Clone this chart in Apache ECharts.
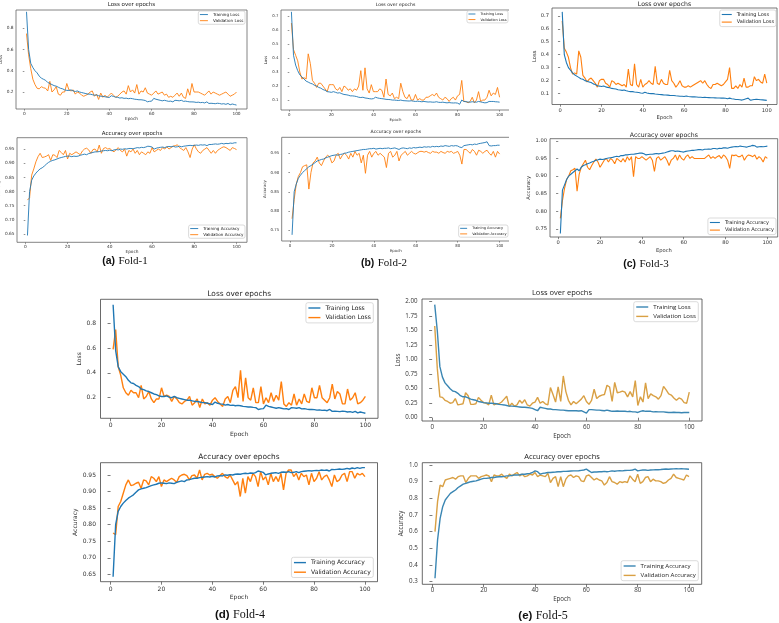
<!DOCTYPE html>
<html><head><meta charset="utf-8">
<script src="https://cdn.jsdelivr.net/npm/echarts@6/dist/echarts.min.js"></script>
<style>html,body{margin:0;padding:0;background:#fff}#c{width:779px;height:623px}</style>
</head><body><div id="c"></div>
<script>
// ---------- tick labels ----------
const epochTicks=[0,20,40,60,80,100];
const lossTicksA=[0.2,0.4,0.6,0.8];
const accTicksA=[0.65,0.70,0.75,0.80,0.85,0.90,0.95];
const lossTicksB=[0.1,0.2,0.3,0.4,0.5,0.6,0.7];
const accTicksB2=[0.75,0.80,0.85,0.90,0.95];
const accTicksB3=[0.75,0.80,0.85,0.90,0.95,1.00];
const lossTicks5=[0,0.25,0.5,0.75,1.0,1.25,1.5,1.75,2.0];
const accTicks5=[0.3,0.4,0.5,0.6,0.7,0.8,0.9,1.0];
const lossNames=['Training Loss','Validation Loss'];
const accNames=['Training Accuracy','Validation Accuracy'];
const captions=[['(a)','Fold-1'],['(b)','Fold-2'],['(c)','Fold-3'],['(d)','Fold-4'],['(e)','Fold-5']];

// ---------- Fold-1 ----------
const f1TrainLoss=[0.955,0.6,0.47,0.43,0.4,0.38,0.35,0.33,0.32,0.31,0.29,0.28,0.27,0.26,0.255,0.245,0.235,0.23,0.22,0.215,0.215,0.22,0.21,0.205,0.21,0.2,0.195,0.19,0.185,0.18,0.18,0.175,0.17,0.172,0.165,0.16,0.16,0.155,0.152,0.148,0.165,0.158,0.152,0.15,0.143,0.146,0.14,0.142,0.137,0.14,0.137,0.132,0.13,0.127,0.127,0.124,0.12,0.108,0.112,0.114,0.14,0.132,0.127,0.122,0.117,0.122,0.117,0.112,0.114,0.107,0.122,0.12,0.117,0.122,0.112,0.114,0.11,0.107,0.107,0.106,0.102,0.104,0.1,0.102,0.097,0.107,0.092,0.094,0.092,0.09,0.094,0.092,0.087,0.09,0.084,0.092,0.08,0.087,0.082,0.077];
const f1ValLoss=[0.75,0.55,0.42,0.32,0.27,0.235,0.23,0.25,0.24,0.235,0.21,0.3,0.2,0.22,0.25,0.18,0.17,0.2,0.2,0.28,0.22,0.21,0.22,0.18,0.2,0.19,0.17,0.16,0.17,0.18,0.2,0.21,0.16,0.18,0.13,0.19,0.15,0.17,0.15,0.17,0.19,0.17,0.15,0.16,0.18,0.2,0.21,0.18,0.26,0.2,0.22,0.19,0.27,0.18,0.21,0.2,0.24,0.19,0.18,0.17,0.19,0.21,0.18,0.19,0.2,0.17,0.18,0.15,0.16,0.15,0.17,0.19,0.16,0.19,0.15,0.14,0.23,0.17,0.28,0.2,0.2,0.2,0.19,0.18,0.17,0.19,0.21,0.18,0.2,0.19,0.18,0.17,0.18,0.19,0.2,0.18,0.16,0.17,0.18,0.2];
const f1TrainAcc=[0.645,0.8,0.84,0.855,0.865,0.873,0.88,0.884,0.89,0.897,0.903,0.907,0.91,0.912,0.915,0.918,0.92,0.922,0.924,0.925,0.925,0.923,0.925,0.924,0.925,0.928,0.93,0.932,0.93,0.934,0.936,0.938,0.94,0.94,0.941,0.943,0.944,0.945,0.944,0.946,0.944,0.947,0.948,0.947,0.95,0.949,0.951,0.95,0.952,0.952,0.951,0.953,0.955,0.954,0.956,0.955,0.957,0.96,0.959,0.957,0.95,0.953,0.955,0.956,0.957,0.955,0.958,0.959,0.958,0.96,0.957,0.958,0.96,0.958,0.96,0.961,0.962,0.963,0.962,0.963,0.964,0.963,0.965,0.964,0.965,0.962,0.966,0.966,0.967,0.968,0.967,0.968,0.97,0.968,0.97,0.969,0.971,0.97,0.972,0.972];
const f1ValAcc=[0.77,0.778,0.858,0.88,0.905,0.923,0.935,0.92,0.922,0.925,0.93,0.91,0.93,0.928,0.92,0.945,0.938,0.93,0.945,0.915,0.935,0.93,0.935,0.94,0.935,0.93,0.943,0.95,0.953,0.947,0.935,0.948,0.95,0.94,0.964,0.935,0.952,0.955,0.95,0.952,0.945,0.94,0.948,0.955,0.945,0.94,0.95,0.925,0.945,0.94,0.95,0.935,0.945,0.93,0.94,0.935,0.93,0.94,0.935,0.955,0.94,0.945,0.95,0.945,0.955,0.95,0.958,0.95,0.955,0.96,0.962,0.965,0.955,0.95,0.945,0.955,0.94,0.92,0.95,0.965,0.95,0.94,0.935,0.945,0.95,0.955,0.945,0.935,0.945,0.935,0.945,0.95,0.955,0.958,0.955,0.95,0.945,0.955,0.952,0.948];

// ---------- Fold-2 ----------
const f2TrainLoss=[0.73,0.42,0.35,0.31,0.28,0.265,0.25,0.235,0.228,0.22,0.215,0.205,0.2,0.19,0.185,0.175,0.17,0.16,0.158,0.155,0.16,0.155,0.15,0.152,0.145,0.14,0.138,0.135,0.13,0.13,0.128,0.125,0.12,0.118,0.12,0.115,0.113,0.11,0.108,0.11,0.12,0.115,0.112,0.11,0.108,0.105,0.104,0.103,0.1,0.1,0.098,0.097,0.1,0.096,0.095,0.094,0.093,0.095,0.092,0.09,0.092,0.09,0.088,0.09,0.088,0.086,0.087,0.085,0.085,0.088,0.084,0.083,0.085,0.082,0.08,0.082,0.08,0.079,0.08,0.078,0.07,0.1,0.09,0.088,0.086,0.085,0.088,0.086,0.085,0.09,0.087,0.083,0.08,0.082,0.09,0.09,0.09,0.088,0.087,0.085];
const f2ValLoss=[0.65,0.46,0.42,0.38,0.3,0.25,0.26,0.25,0.43,0.36,0.24,0.22,0.19,0.22,0.22,0.2,0.18,0.16,0.21,0.21,0.21,0.18,0.17,0.19,0.16,0.2,0.19,0.17,0.18,0.16,0.18,0.17,0.2,0.31,0.17,0.33,0.18,0.15,0.21,0.16,0.16,0.16,0.18,0.17,0.12,0.25,0.14,0.13,0.15,0.11,0.12,0.11,0.22,0.16,0.12,0.11,0.14,0.1,0.1,0.14,0.1,0.11,0.1,0.1,0.12,0.12,0.13,0.14,0.13,0.15,0.12,0.11,0.1,0.12,0.11,0.09,0.11,0.12,0.1,0.13,0.14,0.24,0.09,0.09,0.08,0.09,0.12,0.08,0.1,0.16,0.09,0.1,0.1,0.12,0.17,0.13,0.15,0.14,0.19,0.12];
const f2TrainAcc=[0.738,0.85,0.87,0.885,0.893,0.9,0.905,0.91,0.915,0.918,0.922,0.926,0.93,0.932,0.934,0.935,0.938,0.94,0.942,0.944,0.945,0.946,0.945,0.947,0.948,0.95,0.951,0.953,0.954,0.955,0.956,0.957,0.958,0.959,0.96,0.96,0.961,0.962,0.962,0.963,0.961,0.962,0.963,0.962,0.963,0.963,0.964,0.962,0.963,0.964,0.962,0.96,0.963,0.964,0.963,0.962,0.964,0.963,0.965,0.964,0.965,0.966,0.965,0.967,0.966,0.967,0.966,0.968,0.967,0.968,0.967,0.969,0.968,0.97,0.969,0.968,0.97,0.969,0.97,0.969,0.966,0.965,0.97,0.971,0.972,0.973,0.972,0.974,0.973,0.975,0.976,0.977,0.978,0.98,0.97,0.969,0.97,0.97,0.971,0.971];
const f2ValAcc=[0.78,0.83,0.87,0.89,0.9,0.915,0.918,0.92,0.857,0.9,0.925,0.93,0.94,0.925,0.918,0.93,0.94,0.945,0.94,0.925,0.93,0.945,0.95,0.935,0.945,0.95,0.945,0.935,0.95,0.94,0.955,0.945,0.95,0.925,0.945,0.898,0.945,0.955,0.94,0.95,0.955,0.945,0.95,0.945,0.94,0.913,0.95,0.955,0.94,0.945,0.955,0.93,0.945,0.95,0.955,0.945,0.95,0.955,0.95,0.948,0.952,0.955,0.955,0.953,0.955,0.952,0.95,0.955,0.953,0.953,0.95,0.955,0.952,0.95,0.955,0.953,0.955,0.95,0.952,0.955,0.945,0.922,0.96,0.96,0.955,0.95,0.96,0.955,0.945,0.958,0.955,0.95,0.955,0.958,0.95,0.945,0.955,0.94,0.955,0.948];

// ---------- Fold-3 ----------
const f3TrainLoss=[0.73,0.4,0.34,0.3,0.28,0.26,0.245,0.235,0.225,0.215,0.21,0.2,0.195,0.19,0.185,0.175,0.17,0.16,0.158,0.155,0.158,0.152,0.148,0.145,0.14,0.138,0.135,0.13,0.128,0.125,0.128,0.122,0.118,0.115,0.115,0.112,0.11,0.108,0.105,0.103,0.11,0.105,0.102,0.1,0.1,0.097,0.095,0.093,0.092,0.09,0.089,0.088,0.086,0.085,0.085,0.083,0.082,0.08,0.08,0.078,0.082,0.078,0.076,0.075,0.075,0.074,0.072,0.072,0.07,0.072,0.07,0.069,0.068,0.068,0.067,0.066,0.066,0.065,0.066,0.064,0.06,0.065,0.06,0.058,0.055,0.055,0.053,0.05,0.055,0.06,0.065,0.05,0.052,0.055,0.057,0.055,0.053,0.052,0.05,0.048];
const f3ValLoss=[0.66,0.45,0.42,0.38,0.3,0.25,0.26,0.25,0.43,0.38,0.24,0.22,0.19,0.21,0.22,0.2,0.18,0.15,0.2,0.21,0.21,0.18,0.17,0.15,0.2,0.19,0.17,0.18,0.17,0.16,0.17,0.15,0.29,0.17,0.16,0.33,0.17,0.15,0.21,0.15,0.17,0.18,0.2,0.18,0.17,0.31,0.18,0.17,0.21,0.18,0.17,0.17,0.28,0.2,0.18,0.15,0.17,0.2,0.16,0.15,0.15,0.16,0.15,0.16,0.17,0.18,0.19,0.2,0.18,0.2,0.17,0.15,0.14,0.17,0.17,0.18,0.17,0.16,0.17,0.19,0.21,0.3,0.14,0.14,0.16,0.14,0.17,0.15,0.22,0.15,0.15,0.16,0.16,0.23,0.2,0.21,0.19,0.18,0.25,0.18];
const f3TrainAcc=[0.737,0.86,0.875,0.89,0.9,0.905,0.91,0.915,0.92,0.915,0.925,0.93,0.932,0.935,0.937,0.94,0.942,0.945,0.946,0.948,0.947,0.948,0.95,0.951,0.952,0.953,0.955,0.956,0.955,0.958,0.958,0.96,0.96,0.961,0.962,0.962,0.963,0.964,0.965,0.965,0.963,0.96,0.961,0.962,0.962,0.963,0.964,0.963,0.964,0.965,0.966,0.968,0.97,0.972,0.972,0.97,0.971,0.97,0.969,0.968,0.97,0.971,0.972,0.973,0.973,0.974,0.975,0.975,0.974,0.976,0.976,0.977,0.976,0.978,0.978,0.977,0.979,0.978,0.98,0.98,0.979,0.981,0.982,0.983,0.984,0.983,0.985,0.984,0.983,0.982,0.984,0.985,0.987,0.986,0.982,0.983,0.984,0.983,0.984,0.985];
const f3ValAcc=[0.78,0.83,0.865,0.89,0.9,0.915,0.918,0.922,0.857,0.905,0.925,0.935,0.945,0.925,0.918,0.93,0.94,0.948,0.94,0.925,0.935,0.945,0.95,0.94,0.95,0.945,0.935,0.95,0.945,0.94,0.95,0.94,0.955,0.945,0.955,0.898,0.955,0.95,0.95,0.955,0.95,0.945,0.95,0.955,0.945,0.913,0.95,0.955,0.945,0.95,0.955,0.945,0.93,0.945,0.95,0.96,0.945,0.96,0.95,0.945,0.955,0.96,0.95,0.955,0.95,0.95,0.95,0.95,0.95,0.95,0.955,0.96,0.95,0.955,0.95,0.955,0.958,0.95,0.96,0.955,0.945,0.922,0.96,0.958,0.96,0.955,0.955,0.96,0.945,0.955,0.96,0.958,0.955,0.96,0.948,0.955,0.95,0.94,0.955,0.95];

// ---------- Fold-4 ----------
const f4TrainLoss=[0.95,0.58,0.45,0.41,0.39,0.37,0.34,0.32,0.315,0.3,0.29,0.27,0.265,0.255,0.25,0.24,0.23,0.225,0.215,0.21,0.21,0.215,0.205,0.2,0.21,0.2,0.195,0.19,0.185,0.18,0.18,0.175,0.17,0.17,0.165,0.16,0.16,0.155,0.15,0.145,0.165,0.155,0.15,0.148,0.14,0.145,0.138,0.14,0.135,0.138,0.135,0.13,0.128,0.125,0.125,0.122,0.12,0.105,0.11,0.112,0.14,0.13,0.125,0.12,0.115,0.12,0.115,0.11,0.112,0.105,0.12,0.118,0.115,0.12,0.11,0.112,0.108,0.105,0.105,0.104,0.1,0.102,0.098,0.1,0.095,0.105,0.09,0.092,0.09,0.088,0.092,0.09,0.085,0.088,0.082,0.09,0.078,0.085,0.08,0.075];
const f4ValLoss=[0.59,0.75,0.45,0.38,0.28,0.24,0.22,0.26,0.24,0.24,0.2,0.3,0.19,0.21,0.25,0.19,0.16,0.19,0.19,0.28,0.21,0.22,0.21,0.17,0.21,0.19,0.16,0.15,0.17,0.18,0.21,0.14,0.16,0.19,0.12,0.19,0.15,0.16,0.14,0.18,0.2,0.17,0.15,0.13,0.19,0.21,0.16,0.26,0.29,0.2,0.42,0.17,0.36,0.2,0.18,0.28,0.16,0.16,0.29,0.15,0.2,0.16,0.24,0.17,0.22,0.18,0.33,0.15,0.13,0.16,0.14,0.23,0.14,0.19,0.15,0.23,0.17,0.16,0.28,0.2,0.2,0.3,0.2,0.18,0.16,0.2,0.31,0.19,0.25,0.23,0.15,0.15,0.27,0.18,0.2,0.24,0.15,0.16,0.18,0.21];
const f4TrainAcc=[0.643,0.8,0.84,0.855,0.865,0.873,0.88,0.885,0.89,0.898,0.905,0.908,0.91,0.912,0.915,0.918,0.92,0.922,0.925,0.926,0.925,0.924,0.926,0.925,0.924,0.928,0.93,0.932,0.93,0.935,0.936,0.938,0.94,0.94,0.942,0.943,0.944,0.945,0.944,0.946,0.944,0.947,0.948,0.947,0.95,0.949,0.951,0.95,0.952,0.953,0.952,0.954,0.955,0.954,0.956,0.955,0.957,0.962,0.96,0.958,0.95,0.953,0.955,0.956,0.957,0.955,0.958,0.959,0.958,0.96,0.957,0.958,0.96,0.957,0.96,0.961,0.962,0.963,0.962,0.963,0.964,0.963,0.965,0.964,0.965,0.962,0.967,0.966,0.967,0.968,0.967,0.968,0.97,0.968,0.971,0.969,0.972,0.97,0.972,0.972];
const f4ValAcc=[0.775,0.77,0.855,0.87,0.895,0.92,0.935,0.918,0.92,0.925,0.928,0.91,0.935,0.932,0.92,0.945,0.94,0.93,0.945,0.915,0.935,0.93,0.935,0.94,0.935,0.928,0.945,0.95,0.952,0.948,0.935,0.948,0.95,0.94,0.965,0.935,0.952,0.955,0.95,0.952,0.945,0.94,0.948,0.955,0.945,0.94,0.95,0.935,0.92,0.93,0.885,0.94,0.895,0.945,0.93,0.955,0.945,0.915,0.96,0.935,0.945,0.92,0.955,0.93,0.945,0.93,0.955,0.905,0.955,0.965,0.965,0.945,0.955,0.935,0.955,0.945,0.95,0.92,0.955,0.93,0.94,0.96,0.935,0.945,0.95,0.935,0.915,0.95,0.93,0.935,0.95,0.955,0.93,0.96,0.96,0.94,0.955,0.95,0.955,0.945];

// ---------- Fold-5 ----------
const f5TrainLoss=[1.95,1.5,0.88,0.7,0.6,0.55,0.5,0.46,0.45,0.42,0.38,0.36,0.36,0.34,0.32,0.31,0.3,0.28,0.27,0.26,0.255,0.25,0.25,0.245,0.24,0.23,0.225,0.22,0.21,0.2,0.2,0.195,0.19,0.185,0.18,0.18,0.175,0.17,0.16,0.14,0.12,0.18,0.17,0.16,0.15,0.15,0.14,0.14,0.135,0.13,0.13,0.125,0.12,0.12,0.12,0.12,0.115,0.12,0.1,0.08,0.14,0.14,0.135,0.13,0.13,0.125,0.12,0.13,0.12,0.11,0.11,0.115,0.11,0.11,0.11,0.105,0.11,0.1,0.1,0.09,0.11,0.12,0.11,0.11,0.11,0.1,0.105,0.1,0.1,0.1,0.095,0.09,0.09,0.095,0.09,0.09,0.085,0.09,0.09,0.09];
const f5ValLoss=[1.58,0.85,0.36,0.35,0.3,0.28,0.25,0.26,0.33,0.22,0.23,0.24,0.43,0.38,0.23,0.23,0.24,0.35,0.3,0.26,0.25,0.22,0.39,0.22,0.24,0.24,0.27,0.32,0.37,0.19,0.25,0.2,0.22,0.3,0.25,0.31,0.22,0.2,0.25,0.27,0.35,0.25,0.28,0.24,0.22,0.52,0.4,0.27,0.53,0.28,0.72,0.45,0.3,0.22,0.28,0.24,0.28,0.32,0.38,0.28,0.23,0.3,0.49,0.33,0.37,0.39,0.4,0.56,0.53,0.28,0.61,0.43,0.44,0.46,0.44,0.36,0.45,0.36,0.64,0.21,0.36,0.27,0.6,0.33,0.41,0.38,0.36,0.32,0.38,0.54,0.48,0.41,0.39,0.34,0.3,0.34,0.32,0.26,0.25,0.44];
const f5TrainAcc=[0.32,0.55,0.68,0.75,0.79,0.81,0.83,0.84,0.85,0.865,0.875,0.885,0.89,0.895,0.9,0.903,0.905,0.91,0.915,0.92,0.92,0.922,0.925,0.925,0.928,0.93,0.93,0.932,0.935,0.935,0.938,0.94,0.94,0.942,0.945,0.945,0.948,0.95,0.955,0.965,0.96,0.945,0.95,0.952,0.955,0.955,0.957,0.958,0.96,0.96,0.962,0.962,0.963,0.964,0.965,0.965,0.966,0.968,0.97,0.975,0.965,0.955,0.958,0.958,0.96,0.96,0.962,0.96,0.962,0.965,0.963,0.965,0.966,0.965,0.967,0.968,0.968,0.97,0.975,0.965,0.968,0.97,0.97,0.968,0.97,0.971,0.972,0.972,0.973,0.975,0.976,0.975,0.976,0.977,0.978,0.977,0.978,0.977,0.976,0.975];
const f5ValAcc=[0.6,0.78,0.88,0.87,0.91,0.915,0.92,0.925,0.915,0.93,0.935,0.935,0.895,0.92,0.935,0.935,0.935,0.92,0.93,0.935,0.94,0.935,0.9,0.94,0.935,0.935,0.945,0.93,0.92,0.945,0.935,0.945,0.955,0.935,0.945,0.93,0.935,0.945,0.94,0.955,0.93,0.94,0.935,0.93,0.95,0.895,0.92,0.93,0.87,0.93,0.87,0.915,0.935,0.94,0.925,0.935,0.93,0.905,0.9,0.935,0.94,0.925,0.91,0.92,0.91,0.905,0.88,0.895,0.93,0.9,0.895,0.885,0.9,0.895,0.9,0.895,0.935,0.915,0.9,0.945,0.89,0.9,0.925,0.93,0.9,0.915,0.905,0.905,0.9,0.89,0.895,0.91,0.92,0.945,0.925,0.92,0.915,0.91,0.94,0.93];

// ---------- styles / layout ----------
const foldStyle=[
 {fs:4.3,tfs:5.5,lfs:4.1,ff:'DejaVu Sans',lw:0.9,tl:1.6,lm:2.8,ym:2.5,xng:7,frame:'#666',c:['#1f77b4','#ff7f0e'],lg:{iw:8,lh:4.8,gap:1.3,pad:[1.2,1.6,1.2,1.6]}},
 {fs:3.9,tfs:4.6,lfs:3.5,ff:'DejaVu Sans',lw:0.9,tl:1.6,lm:2.8,ym:2.5,xng:7.3,frame:'#666',c:['#1f77b4','#ff7f0e'],lg:{iw:7,lh:4.2,gap:1.4,pad:[1.2,1.5,1.2,1.5]}},
 {fs:5.2,tfs:6.2,lfs:5,ff:'DejaVu Sans',lw:1.1,tl:2.2,lm:3.6,ym:3,xng:11,frame:'#555',c:['#1f77b4','#ff7f0e'],lg:{iw:10,lh:5.8,gap:1.8,pad:[1.6,2,1.6,2]}},
 {fs:6,tfs:7.4,lfs:6.1,ff:'DejaVu Sans',lw:1.4,tl:3,lm:4.4,ym:4.5,xng:12.7,frame:'#444',c:['#1f77b4','#ff7f0e'],lg:{iw:12,lh:7,gap:2.6,pad:[1.8,2.5,1.8,2.5]}},
 {fs:6.2,tfs:7.5,lfs:6.1,ff:'Open Sans',lw:1.4,tl:3,lm:3,ym:4.5,xng:12,frame:'#444',c:['#3a86b3','#d9a044'],lg:{iw:12,lh:7,gap:2.4,pad:[1.8,2.5,1.8,2.5]}}
];
const panels=[
 {f:0,box:[16,10,247,109],yr:[0.04,0.972],ticks:lossTicksA,dec:1,tr:f1TrainLoss,va:f1ValLoss,kind:'Loss',yng:7.8,ty:4.5,leg:{right:534,top:11}},
 {f:0,box:[17,137.7,247,242.3],yr:[0.621,0.990],ticks:accTicksA,dec:2,tr:f1TrainAcc,va:f1ValAcc,kind:'Accuracy',yng:12.4,ty:134,leg:{right:534,top:225}},
 {f:1,box:[281,10,510,110],yr:[0.029,0.743],ticks:lossTicksB,dec:1,tr:f2TrainLoss,va:f2ValLoss,kind:'Loss',yng:10,ty:4.5,leg:{right:271,top:10.7}},
 {f:1,box:[281.7,137.3,510,241],yr:[0.722,0.9916],ticks:accTicksB2,dec:2,tr:f2TrainAcc,va:f2ValAcc,kind:'Accuracy',yng:12.4,ty:132,leg:{right:271,top:225}},
 {f:2,box:[552,8,777,104.5],yr:[0.016,0.76],ticks:lossTicksB,dec:1,tr:f3TrainLoss,va:f3ValLoss,kind:'Loss',yng:14.5,ty:4,leg:{right:3,top:10}},
 {f:2,box:[550,138.7,777.7,237],yr:[0.727,1.006],ticks:accTicksB3,dec:2,tr:f3TrainAcc,va:f3ValAcc,kind:'Accuracy',yng:15.2,ty:135.7,leg:{right:3,top:218}},
 {f:3,box:[100.5,299.3,378,418.3],yr:[0.034,0.9935],ticks:lossTicksA,dec:1,tr:f4TrainLoss,va:f4ValLoss,kind:'Loss',yng:17,ty:294,leg:{right:405.7,top:302.7}},
 {f:3,box:[100.5,462.7,377.5,581.7],yr:[0.628,0.987],ticks:accTicksA,dec:2,tr:f4TrainAcc,va:f4ValAcc,kind:'Accuracy',yng:21.7,ty:456.7,leg:{right:405.7,top:557.3}},
 {f:4,box:[422,299,702,421],yr:[-0.057,2.047],ticks:lossTicks5,dec:2,tr:f5TrainLoss,va:f5ValLoss,kind:'Loss',yng:20.4,ty:293.3,leg:{right:80.7,top:301.7}},
 {f:4,box:[422.3,462.7,701.7,584.3],yr:[0.284,1.014],ticks:accTicks5,dec:1,tr:f5TrainAcc,va:f5ValAcc,kind:'Accuracy',yng:17.6,ty:457.3,leg:{right:80.7,top:560.7}}
];
const captionPos=[[125,261,10.5],[384,262.7,10.5],[646,264.3,10.5],[240,615,11.5],[543,616,11.5]];

const grid=[],xAxis=[],yAxis=[],series=[],legend=[],graphic=[];
panels.forEach((p,i)=>{
  const s=foldStyle[p.f];
  const names=p.kind==='Loss'?lossNames:accNames;
  const [x0,y0,x1,y1]=p.box;
  grid.push({left:x0,top:y0,width:x1-x0,height:y1-y0,show:true,borderColor:s.frame,borderWidth:0.8,backgroundColor:'transparent',containLabel:false,outerBoundsMode:'none'});
  const txt={fontSize:s.fs,color:'#333',fontFamily:s.ff};
  xAxis.push({type:'value',gridIndex:i,min:-3.95,max:104.95,
    axisLine:{show:false},splitLine:{show:false},
    axisTick:{show:true,customValues:epochTicks,length:s.tl,lineStyle:{color:s.frame,width:0.7}},
    axisLabel:Object.assign({customValues:epochTicks,margin:s.lm,hideOverlap:false,formatter:v=>String(Math.round(v))},txt),
    name:'Epoch',nameLocation:'middle',nameGap:s.xng,nameTextStyle:txt});
  yAxis.push({type:'value',gridIndex:i,min:p.yr[0],max:p.yr[1],
    axisLine:{show:false},splitLine:{show:false},
    axisTick:{show:true,customValues:p.ticks,length:s.tl,lineStyle:{color:s.frame,width:0.7}},
    axisLabel:Object.assign({customValues:p.ticks,margin:s.ym,hideOverlap:false,formatter:v=>v.toFixed(p.dec)},txt),
    name:p.kind,nameLocation:'middle',nameRotate:90,nameGap:p.yng,nameTextStyle:txt});
  [p.tr,p.va].forEach((arr,k)=>{
    series.push({type:'line',name:names[k],xAxisIndex:i,yAxisIndex:i,
      data:arr.map((v,j)=>[j+1,v]),symbol:'none',showSymbol:false,animation:false,silent:true,
      lineStyle:{color:s.c[k],width:s.lw},itemStyle:{color:s.c[k]},z:k===0?3:2});
  });
  legend.push({show:true,orient:'vertical',right:p.leg.right,top:p.leg.top,selectedMode:false,
    icon:'rect',itemWidth:s.lg.iw,itemHeight:Math.max(0.9,s.lw),itemGap:s.lg.gap,padding:s.lg.pad,
    backgroundColor:'rgba(255,255,255,0.85)',borderColor:'#cccccc',borderWidth:0.7,borderRadius:2,
    textStyle:{fontSize:s.lfs,lineHeight:s.lg.lh,color:'#222',fontFamily:s.ff},
    data:names.map((n,k)=>({name:n,itemStyle:{color:s.c[k],borderWidth:0}}))});
  graphic.push({type:'text',x:(x0+x1)/2,y:p.ty,z:50,silent:true,
    style:{text:p.kind==='Loss'?'Loss over epochs':'Accuracy over epochs',fontSize:s.tfs,fontFamily:s.ff,fill:'#222',align:'center',verticalAlign:'middle'}});
});
// crop of the Fold-2 image on its right side
graphic.push({type:'rect',shape:{x:509,y:0,width:14,height:250},style:{fill:'#fff'},z:100,silent:true});
captions.forEach((c,i)=>{
  const [cx,cy,fz]=captionPos[i];
  graphic.push({type:'text',x:cx,y:cy,z:60,silent:true,
    style:{text:'{a|'+c[0]+'} {b|'+c[1]+'}',align:'center',verticalAlign:'middle',
      rich:{a:{fontFamily:'Liberation Sans',fontWeight:'bold',fontSize:fz,fill:'#111'},
            b:{fontFamily:'Liberation Serif',fontSize:fz+0.5,fill:'#111'}}}});
});

const chart=echarts.init(document.getElementById('c'),null,{renderer:'canvas'});
chart.setOption({animation:false,backgroundColor:'#fff',grid,xAxis,yAxis,series,legend,graphic});
</script>
</body></html>
